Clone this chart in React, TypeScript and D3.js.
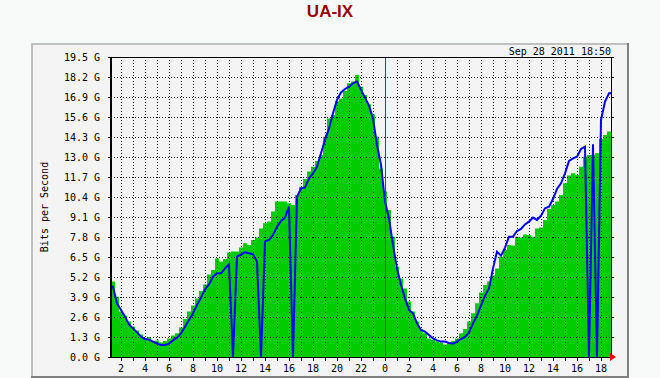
import React from 'react';
import * as d3 from 'd3';

// Incoming traffic (green area), Gbit/s, one value per 20 minutes
const incoming = [
  4.90, 3.92, 2.95, 2.69, 2.30, 1.97, 1.73, 1.47, 1.21, 1.30,
  1.04, 1.08, 0.95, 1.04, 1.21, 1.39, 1.54, 1.91, 2.47, 2.95,
  3.34, 3.81, 4.29, 4.72, 5.37, 5.66, 6.41, 6.20, 6.37, 6.80,
  6.85, 6.85, 7.11, 7.39, 7.28, 7.61, 7.76, 8.36, 8.69, 8.80,
  9.45, 10.10, 10.10, 10.10, 9.99, 9.88, 10.53, 11.07, 11.57, 12.05,
  12.37, 12.74, 13.13, 14.32, 15.51, 15.73, 16.60, 16.81, 17.29, 17.79,
  17.90, 18.33, 17.57, 17.03, 16.42, 15.77, 14.32, 12.26, 10.75, 9.56,
  7.82, 5.87, 5.11, 4.46, 3.60, 2.95, 2.30, 1.82, 1.54, 1.21,
  1.10, 1.00, 0.95, 0.82, 0.95, 1.04, 1.21, 1.54, 1.82, 2.30,
  2.84, 3.49, 4.20, 4.68, 4.90, 5.29, 5.76, 6.52, 6.96, 7.28,
  7.24, 7.82, 7.76, 7.97, 7.93, 7.82, 8.36, 8.41, 8.91, 9.62,
  9.88, 10.10, 10.53, 11.29, 11.79, 11.94, 11.83, 12.37, 13.02, 13.13,
  13.13, 13.24, 14.17, 14.43, 14.65,
];

// Outgoing traffic (blue line), Gbit/s, one value per 20 minutes
const outgoing = [
  4.57, 3.49, 3.06, 2.62, 2.12, 1.86, 1.60, 1.32, 1.17, 1.13,
  1.00, 0.87, 0.78, 0.78, 0.87, 1.08, 1.26, 1.54, 1.97, 2.40,
  2.84, 3.38, 3.86, 4.40, 4.72, 5.22, 5.44, 5.44, 5.76, 6.02,
  0.00, 6.52, 6.67, 6.80, 6.74, 6.67, 6.20, 0.00, 7.50, 7.61,
  7.93, 8.47, 8.84, 9.06, 9.77, 0.00, 10.42, 10.96, 11.01, 11.61,
  11.94, 12.37, 13.24, 14.11, 14.86, 15.84, 16.71, 17.20, 17.42, 17.57,
  17.79, 17.90, 17.36, 16.86, 16.34, 15.51, 13.78, 12.48, 10.10, 9.01,
  7.28, 5.76, 4.68, 3.81, 3.06, 2.84, 2.19, 1.76, 1.65, 1.43,
  1.21, 1.08, 1.00, 1.00, 0.91, 0.87, 1.00, 1.17, 1.30, 1.60,
  2.19, 2.69, 3.34, 3.99, 4.46, 5.76, 6.85, 6.59, 7.11, 7.82,
  7.82, 8.19, 8.32, 8.62, 8.80, 9.06, 8.91, 9.19, 9.66, 9.77,
  10.27, 10.92, 11.29, 11.94, 12.74, 12.91, 13.02, 13.52, 13.67, 0.00,
  13.82, 0.00, 15.41, 16.60, 17.14,
];

const yTickValues = [0, 1.3, 2.6, 3.9, 5.2, 6.5, 7.8, 9.1, 10.4, 11.7, 13.0, 14.3, 15.6, 16.9, 18.2, 19.5];
const yTickLabels = ['0.0 G', '1.3 G', '2.6 G', '3.9 G', '5.2 G', '6.5 G', '7.8 G', '9.1 G', '10.4 G', '11.7 G', '13.0 G', '14.3 G', '15.6 G', '16.9 G', '18.2 G', '19.5 G'];
// hours relative to midnight of the 28th
const hourTicks = d3.range(-22, 19);
const title = 'UA-IX';
const dateLabel = 'Sep 28 2011 18:50';
const yAxisTitle = 'Bits per Second';

const W = 660;
const H = 378;
const X0 = 111;
const X1 = 611;
const Y0 = 57;
const Y1 = 357;
const tEnd = 18 + 50 / 60;
const tStart = tEnd - (500 * 5) / 60;

const mono = "'DejaVu Sans Mono', monospace";

export default function App() {
  const x = d3.scaleLinear().domain([tStart, tEnd]).range([X0, X1]);
  const y = d3.scaleLinear().domain([0, 19.5]).range([Y1, Y0]);
  const step = (tEnd - tStart) / incoming.length;
  const stepPts = (arr: number[]) => [
    ...arr.map((v, i) => [tStart + i * step, v] as [number, number]),
    [tEnd, arr[arr.length - 1]] as [number, number],
  ];
  const centerPts = (arr: number[]) => [
    [tStart, arr[0]] as [number, number],
    ...arr.map((v, i) => [tStart + (i + 0.5) * step, v] as [number, number]),
    [tEnd, arr[arr.length - 1]] as [number, number],
  ];
  const area = d3
    .area<[number, number]>()
    .x((d) => x(d[0]))
    .y0(Y1)
    .y1((d) => y(d[1]))
    .curve(d3.curveStepAfter);
  const line = d3
    .line<[number, number]>()
    .x((d) => x(d[0]))
    .y((d) => y(d[1]))
    .curve(d3.curveLinear);

  const label = (h: number) => String(((h % 24) + 24) % 24);

  return (
    <svg
      width={W}
      height={H}
      style={{ position: 'fixed', left: 0, top: 0, display: 'block' }}
    >
      <rect x={0} y={0} width={W} height={H} fill="#f8fafa" />
      {/* panel */}
      <rect x={31} y={43} width={598} height={335} fill="#f4f4f4" />
      <line x1={31} y1={44} x2={629} y2={44} stroke="#c0c0c0" strokeWidth={2} />
      <line x1={32} y1={43} x2={32} y2={378} stroke="#c0c0c0" strokeWidth={2} />
      <line x1={628} y1={43} x2={628} y2={378} stroke="#808080" strokeWidth={2} />
      <line x1={31} y1={377} x2={629} y2={377} stroke="#808080" strokeWidth={2} />

      <text
        x={330}
        y={17}
        textAnchor="middle"
        fontFamily="'Liberation Sans', Arial, sans-serif"
        fontWeight="bold"
        fontSize={17}
        fill="#990000"
      >
        {title}
      </text>
      <text x={611} y={55} textAnchor="end" fontFamily={mono} fontSize={10} fill="#000">
        {dateLabel}
      </text>
      <text
        transform={`translate(48,${(Y0 + Y1) / 2}) rotate(-90)`}
        textAnchor="middle"
        fontFamily={mono}
        fontSize={10}
        fill="#000"
      >
        {yAxisTitle}
      </text>

      {/* data */}
      <path d={area(stepPts(incoming)) || ''} fill="#00cc00" />

      {/* grid */}
      <g shapeRendering="crispEdges">
        {yTickValues.slice(1, -1).map((v) => (
          <line
            key={'h' + v}
            x1={X0}
            x2={X1}
            y1={Math.round(y(v)) + 0.5}
            y2={Math.round(y(v)) + 0.5}
            stroke="#000"
            strokeDasharray="1,2"
          />
        ))}
        {hourTicks
          .filter((h) => h !== 0)
          .map((h) => (
            <line
              key={'v' + h}
              x1={Math.round(x(h)) + 0.5}
              x2={Math.round(x(h)) + 0.5}
              y1={Y0}
              y2={Y1}
              stroke="#000"
              strokeDasharray="1,2"
            />
          ))}
      </g>

      <path
        d={line(centerPts(outgoing)) || ''}
        fill="none"
        stroke="#0000ff"
        strokeWidth={2}
        strokeLinejoin="miter"
      />

      {/* midnight marker */}
      <line
        x1={Math.round(x(0)) + 0.5}
        x2={Math.round(x(0)) + 0.5}
        y1={Y0}
        y2={Y1}
        stroke="#dd0000"
        shapeRendering="crispEdges"
      />

      {/* frame and ticks */}
      <g shapeRendering="crispEdges" stroke="#000">
        <line x1={X0} x2={X1 + 1} y1={Y0 + 0.5} y2={Y0 + 0.5} />
        <line x1={X1 + 0.5} x2={X1 + 0.5} y1={Y0} y2={Y1} />
        <line x1={X0} x2={X0} y1={Y0} y2={Y1 + 1} strokeWidth={2} />
        <line x1={X0 - 1} x2={X1 + 1} y1={Y1 + 0.5} y2={Y1 + 0.5} />
        {yTickValues.map((v) => (
          <g key={'yt' + v}>
            <line x1={X0 - 3} x2={X0} y1={Math.round(y(v)) + 0.5} y2={Math.round(y(v)) + 0.5} />
            <line x1={X1} x2={X1 + 3} y1={Math.round(y(v)) + 0.5} y2={Math.round(y(v)) + 0.5} />
          </g>
        ))}
        {hourTicks.map((h) => (
          <line
            key={'xt' + h}
            x1={Math.round(x(h)) + 0.5}
            x2={Math.round(x(h)) + 0.5}
            y1={Y1}
            y2={Y1 + 4}
          />
        ))}
      </g>
      <polygon points={`${X1 - 1},${Y1 - 4} ${X1 - 1},${Y1 + 4} ${X1 + 5},${Y1}`} fill="#ff0000" />

      {/* labels */}
      {yTickValues.map((v, i) => (
        <text
          key={'yl' + v}
          x={100}
          y={y(v) + 4}
          textAnchor="end"
          fontFamily={mono}
          fontSize={10}
          fill="#000"
        >
          {yTickLabels[i]}
        </text>
      ))}
      {hourTicks
        .filter((h) => ((h % 2) + 2) % 2 === 0)
        .map((h) => (
          <text
            key={'xl' + h}
            x={x(h)}
            y={372}
            textAnchor="middle"
            fontFamily={mono}
            fontSize={10}
            fill="#000"
          >
            {label(h)}
          </text>
        ))}
    </svg>
  );
}
